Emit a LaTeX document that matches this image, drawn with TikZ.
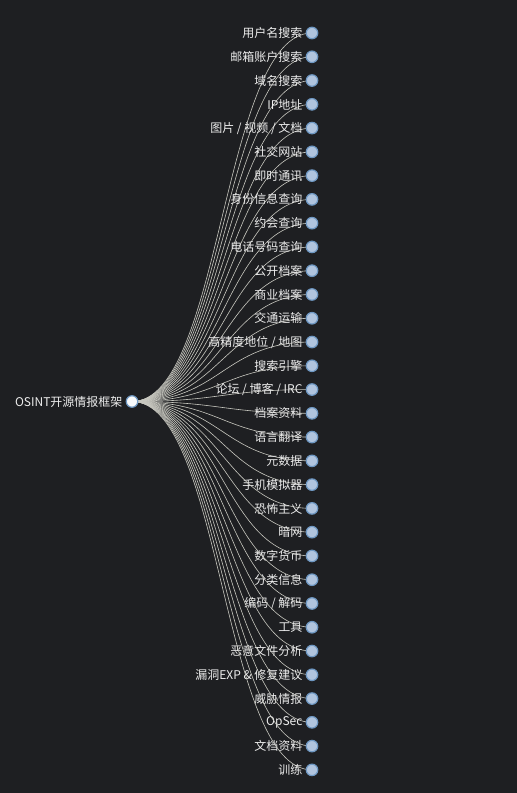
\documentclass[tikz,border=0pt]{standalone}
\usepackage{fontspec}
\setmainfont{Noto Sans CJK SC}
\definecolor{bgdark}{HTML}{1E1F22}
\definecolor{leafblue}{HTML}{B0C4DE}
\definecolor{nodeedge}{HTML}{6E97C2}
\definecolor{linkgray}{HTML}{C8C8C0}
\definecolor{labelgray}{HTML}{EDEDED}
\tikzset{
  leaf/.style={circle,draw=nodeedge,fill=leafblue,line width=1.2pt,inner sep=0pt,minimum size=11.5pt},
  rootdot/.style={leaf,fill=white!92!leafblue},
  label text/.style={text=labelgray,font=\fontsize{12}{14}\selectfont,inner sep=0pt,anchor=east},
  link/.style={draw=linkgray,line width=0.6pt}
}
\begin{document}
\begin{tikzpicture}[x=1pt,y=-1pt]
  \fill[bgdark] (0,0) rectangle (517,793);
  \useasboundingbox (0,0) rectangle (517,793);
  % root and leaves
  \coordinate (r) at (132,401.5);
  \foreach \lab [count=\i] in {用户名搜索,邮箱账户搜索,域名搜索,IP地址,图片 / 视频 / 文档,社交网站,即时通讯,身份信息查询,约会查询,电话号码查询,公开档案,商业档案,交通运输,高精度地位 / 地图,搜索引擎,论坛 / 博客 / IRC,档案资料,语言翻译,元数据,手机模拟器,恐怖主义,暗网,数字货币,分类信息,编码 / 解码,工具,恶意文件分析,漏洞EXP \& 修复建议,威胁情报,OpSec,文档资料,训练}{
    \pgfmathsetmacro{\yy}{33+(\i-1)*23.77}
    \coordinate (c\i) at (312,\yy);
    \draw[link] (r) .. controls (222,401.5) and (222,\yy) .. (c\i);
    \node[leaf] (n\i) at (c\i) {};
    \node[label text] (t\i) at ([xshift=-3pt]n\i.west) {\lab};
  }
  \node[rootdot] (root) at (r) {};
  \node[label text] (rootlab) at ([xshift=-3pt]root.west) {OSINT开源情报框架};
\end{tikzpicture}
\end{document}
